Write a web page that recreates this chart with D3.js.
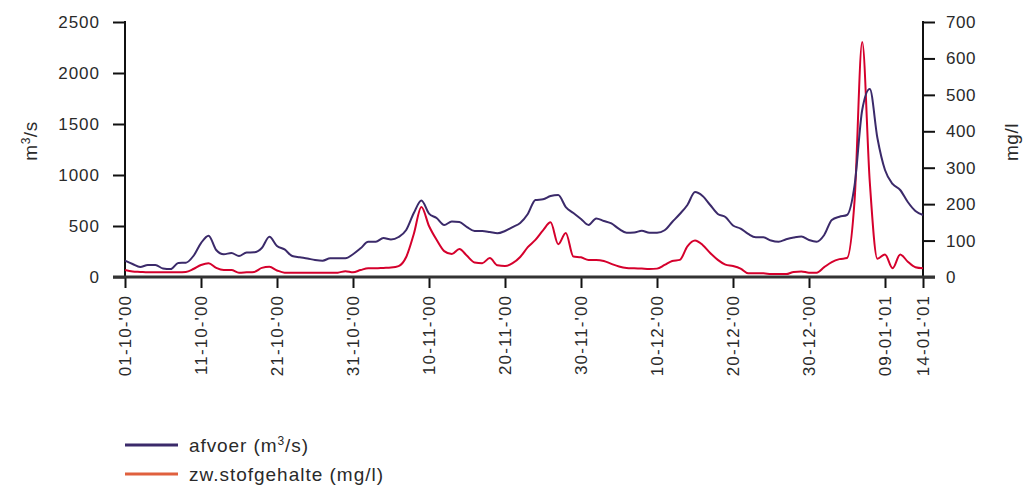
<!DOCTYPE html>
<html><head><meta charset="utf-8">
<script src="https://cdn.jsdelivr.net/npm/d3@7"></script>
<style>
html,body{margin:0;padding:0;background:#fff;}
svg text{font-family:"Liberation Sans",Arial,sans-serif;fill:#2a2a2a;}
</style></head>
<body><svg id="c" width="1023" height="486"></svg>
<script>
const startDate = "2000-10-01";
const endDate = "2001-01-14";
// daily discharge afvoer (m3/s), 01-10-'00 .. 14-01-'01
const afvoer = [160,127,98,118,118,83,78,137,140,206,
  333,405,265,223,235,206,240,242,284,395,
  304,270,206,193,181,167,160,183,183,183,
  223,281,346,346,382,368,392,461,627,750,
  622,578,510,544,539,490,451,451,441,428,
  451,490,530,618,755,762,794,804,686,627,
  569,510,574,549,525,471,434,436,454,434,
  434,458,539,618,706,833,794,706,618,588,
  505,475,422,389,389,358,346,370,387,397,
  363,346,412,559,591,608,900,1637,1843,1363,
  1049,912,853,735,647,608];
// daily suspended sediment zw.stofgehalte (mg/l)
const zwstof = [19,15,14,13,13,13,13,13,14,22,
  33,38,25,19,19,12,13,14,25,28,
  18,12,12,12,12,12,12,12,12,16,
  13,19,24,24,25,26,30,55,118,192,
  140,102,71,63,77,58,40,38,52,32,
  30,38,55,82,102,128,150,90,121,56,
  54,47,47,44,36,29,25,24,23,22,
  23,33,44,47,84,100,88,66,47,34,
  30,23,10,10,10,8,8,8,14,15,
  12,12,27,41,49,52,211,645,260,50,
  62,24,62,42,27,24];
const xTickDates = ["2000-10-01","2000-10-11","2000-10-21","2000-10-31","2000-11-10","2000-11-20","2000-11-30","2000-12-10","2000-12-20","2000-12-30","2001-01-09","2001-01-14"];
const leftTicks = [0,500,1000,1500,2000,2500];
const rightTicks = [0,100,200,300,400,500,600,700];
const seriesNames = ["afvoer (m³/s)","zw.stofgehalte (mg/l)"];

const parse = d3.utcParse("%Y-%m-%d");
const fmt = d3.utcFormat("%d-%m-'%y");
const t0 = parse(startDate);
const dates = afvoer.map((_, i) => d3.utcDay.offset(t0, i));

const svg = d3.select("#c");
const L = 125, R = 923, T = 22, B = 277;
const x = d3.scaleUtc().domain([t0, parse(endDate)]).range([L, R]);
const yL = d3.scaleLinear().domain([0, 2500]).range([B, T]);
const yR = d3.scaleLinear().domain([0, 700]).range([B, T]);

const fs = 17;
// left axis
const gL = svg.append("g").attr("transform", `translate(${L},0)`)
  .call(d3.axisLeft(yL).tickValues(leftTicks).tickSize(12).tickPadding(13).tickFormat(d3.format("d")));
// right axis
const gR = svg.append("g").attr("transform", `translate(${R},0)`)
  .call(d3.axisRight(yR).tickValues(rightTicks).tickSize(12).tickPadding(11).tickFormat(d3.format("d")));
// bottom axis
const gB = svg.append("g").attr("transform", `translate(0,${B})`)
  .call(d3.axisBottom(x).tickValues(xTickDates.map(parse)).tickSize(11).tickFormat(fmt));
gB.selectAll("text").attr("transform", "rotate(-90)").attr("text-anchor", "end")
  .attr("x", -18).attr("y", 0).attr("dy", "0.35em").attr("letter-spacing", "1.1px");
[gL, gR, gB].forEach(g => {
  g.selectAll(".domain").remove();
  g.selectAll("line").attr("stroke", "#111").attr("stroke-width", 2);
  g.selectAll("text").attr("font-size", fs).attr("fill", "#2a2a2a");
});
gL.selectAll("text").attr("letter-spacing", "1px");
gR.selectAll("text").attr("letter-spacing", "0.6px");
// axis lines
svg.append("line").attr("x1", L).attr("x2", L).attr("y1", T - 1).attr("y2", B).attr("stroke", "#111").attr("stroke-width", 2);
svg.append("line").attr("x1", R).attr("x2", R).attr("y1", T - 1).attr("y2", B).attr("stroke", "#111").attr("stroke-width", 2);
svg.append("line").attr("x1", L - 12).attr("x2", R + 12).attr("y1", B).attr("y2", B).attr("stroke", "#333").attr("stroke-width", 3);

// axis titles
svg.append("text").attr("transform", `translate(37,141) rotate(-90)`).attr("text-anchor", "middle")
  .attr("font-size", 19).attr("letter-spacing", "0.5px").html('m<tspan baseline-shift="super" font-size="12">3</tspan>/s');
svg.append("text").attr("transform", `translate(1018,142) rotate(-90)`).attr("text-anchor", "middle")
  .attr("font-size", 19).attr("letter-spacing", "0.5px").text("mg/l");

// lines
const colA = "#3b2a6a", colZ = "#d5002c";
const lineA = d3.line().x((d, i) => x(dates[i])).y(d => yL(d)).curve(d3.curveMonotoneX);
const lineZ = d3.line().x((d, i) => x(dates[i])).y(d => yR(d)).curve(d3.curveMonotoneX);
svg.append("path").datum(zwstof).attr("d", lineZ).attr("fill", "none").attr("stroke", colZ).attr("stroke-width", 2).attr("stroke-linejoin", "round");
svg.append("path").datum(afvoer).attr("d", lineA).attr("fill", "none").attr("stroke", colA).attr("stroke-width", 2).attr("stroke-linejoin", "round");

// legend
const leg = svg.append("g");
const legCols = [colA, "#e0603e"];
const legW = [119, 194];
seriesNames.forEach((n, i) => {
  const yy = 445 + i * 29;
  leg.append("line").attr("x1", 125).attr("x2", 178).attr("y1", yy).attr("y2", yy).attr("stroke", legCols[i]).attr("stroke-width", 3);
  const t = leg.append("text").attr("x", 189).attr("y", yy).attr("dy", "0.35em").attr("font-size", 19)
    .attr("textLength", legW[i]).attr("lengthAdjust", "spacing");
  if (i === 0) t.html('afvoer (m<tspan baseline-shift="super" font-size="12">3</tspan>/s)');
  else t.text(n);
});
</script></body></html>
